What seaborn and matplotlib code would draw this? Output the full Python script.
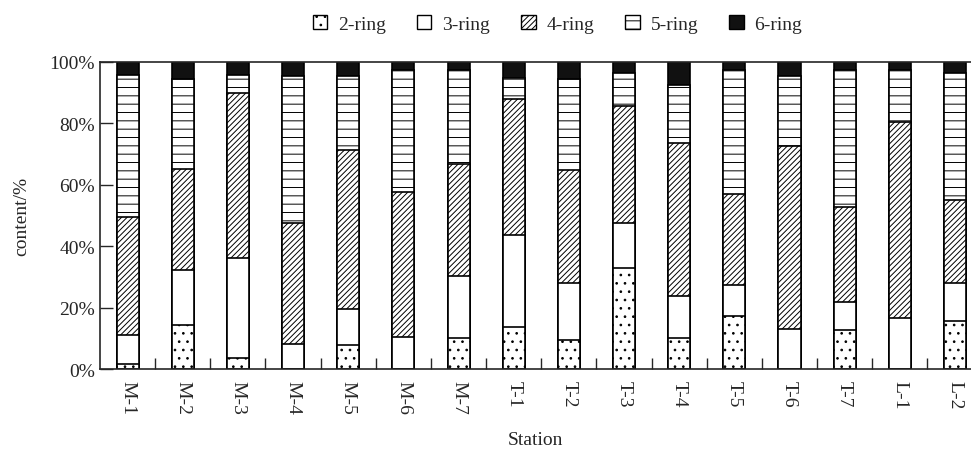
import numpy as np
import pandas as pd
import matplotlib
matplotlib.use("Agg")
import matplotlib.pyplot as plt
import seaborn as sns
from matplotlib.patches import Patch
from matplotlib.ticker import FixedLocator, FuncFormatter

# Estações e conteúdo (%) de cada grupo de anéis
stations = ["M-1", "M-2", "M-3", "M-4", "M-5", "M-6", "M-7",
            "T-1", "T-2", "T-3", "T-4", "T-5", "T-6", "T-7", "L-1", "L-2"]
ring2 = [1.6, 14.3, 3.7, 0, 7.9, 0, 10.2, 13.6, 9.5, 32.8, 10.1, 17.2, 0, 12.6, 0, 15.6]
ring3 = [9.5, 18.0, 32.6, 8.3, 11.8, 10.6, 20.1, 29.9, 18.4, 14.6, 13.6, 10.2, 13.1, 9.4, 16.7, 12.3]
ring4 = [38.5, 32.9, 53.5, 39.1, 51.7, 47.0, 36.3, 44.4, 36.8, 38.3, 49.9, 29.6, 59.4, 30.9, 63.6, 27.3]
ring5 = [46.1, 29.1, 5.9, 47.9, 23.9, 39.7, 30.7, 7.0, 29.6, 10.7, 18.8, 40.3, 22.8, 44.4, 17.0, 41.2]
ring6 = [4.3, 5.7, 4.3, 4.7, 4.7, 2.7, 2.7, 5.1, 5.7, 3.6, 7.6, 2.7, 4.7, 2.7, 2.7, 3.6]
ring_labels = ["2-ring", "3-ring", "4-ring", "5-ring", "6-ring"]

sns.set_style("ticks")
plt.rcParams["font.family"] = ["Liberation Serif", "DejaVu Serif"]
plt.rcParams["hatch.linewidth"] = 0.7
plt.rcParams["hatch.color"] = "black"

df = pd.DataFrame({"Station": stations, "r2": ring2, "r3": ring3,
                   "r4": ring4, "r5": ring5, "r6": ring6})
cols = ["r2", "r3", "r4", "r5", "r6"]
cum = df[cols].cumsum(axis=1)

styles = {
    "r2": dict(color="white", hatch=".."),
    "r3": dict(color="white", hatch=""),
    "r4": dict(color="white", hatch="//////"),
    "r5": dict(color="white", hatch="--"),
    "r6": dict(color="#111111", hatch=""),
}

fig, ax = plt.subplots(figsize=(9.71, 4.52), dpi=100)
fig.subplots_adjust(left=0.103, right=1.0, bottom=0.181, top=0.861)

# Desenha do topo para baixo para empilhar
for c in reversed(cols):
    sns.barplot(x=df["Station"], y=cum[c], ax=ax, width=0.4, saturation=1,
                edgecolor="black", linewidth=1.2, **styles[c])

ax.set_xlim(-0.5, 15.29)
ax.set_ylim(0, 100)
ax.yaxis.set_major_locator(FixedLocator([0, 20, 40, 60, 80, 100]))
ax.yaxis.set_major_formatter(FuncFormatter(lambda v, p: f"{v:.0f}%"))
ax.xaxis.set_minor_locator(FixedLocator(np.arange(0.5, 15.5, 1)))
ax.tick_params(axis="x", which="major", length=0, pad=8, labelsize=14, labelrotation=-90)
ax.tick_params(axis="x", which="minor", direction="in", length=8, width=1)
ax.tick_params(axis="y", direction="in", length=9, width=1, labelsize=14)
ax.spines["right"].set_visible(False)
for s in ["left", "bottom", "top"]:
    ax.spines[s].set_linewidth(1.2)
ax.set_xlabel("Station", fontsize=14, labelpad=12)
ax.set_ylabel("content/%", fontsize=14, labelpad=14)

handles = [Patch(facecolor=styles[c]["color"], edgecolor="black",
                 hatch=styles[c]["hatch"], linewidth=1) for c in cols]
fig.legend(handles, ring_labels, loc="center", bbox_to_anchor=(0.574, 0.945),
           ncol=5, frameon=False, fontsize=14, handlelength=0.75, handleheight=0.75,
           handletextpad=0.55, columnspacing=1.6)

plt.savefig("out.png", dpi=100)
